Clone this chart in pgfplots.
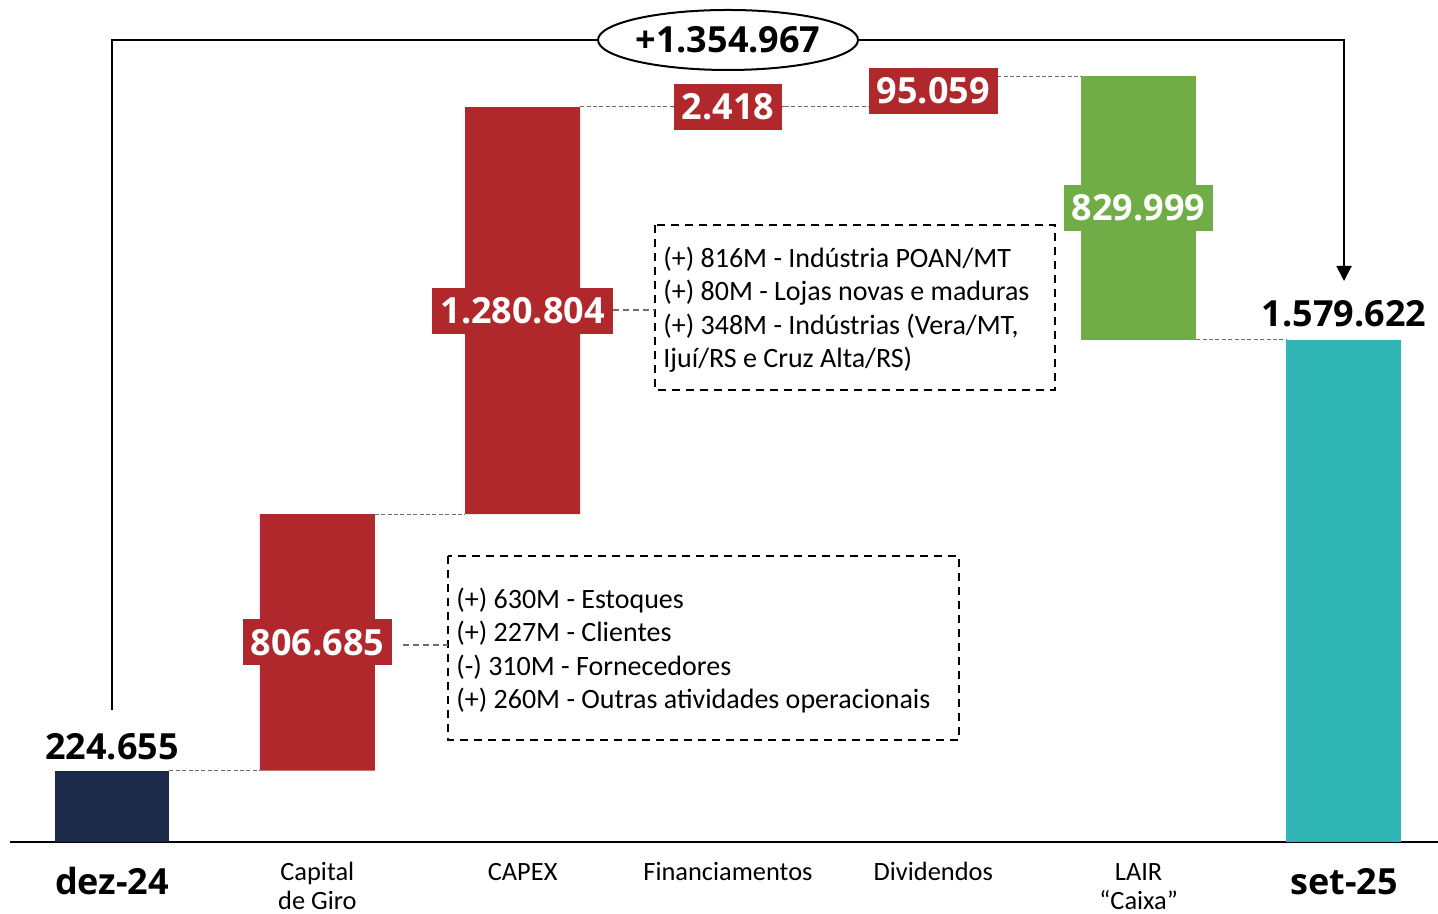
\documentclass[border=0pt]{standalone}
\usepackage{pgfplots}
\pgfplotsset{compat=1.18}
\usepackage{fontspec}
\setmainfont{Open Sans}
\newfontfamily\calib{Carlito}
\usetikzlibrary{arrows.meta}
\definecolor{cnavy}{RGB}{28,42,74}
\definecolor{cred}{RGB}{176,40,44}
\definecolor{cgreen}{RGB}{112,173,71}
\definecolor{cteal}{RGB}{46,181,180}
\definecolor{cgray}{RGB}{110,110,110}
\tikzset{
  vbox/.style={fill=#1, text=white, font=\fontsize{18}{21}\bfseries\selectfont, inner xsep=4pt, inner ysep=0pt, minimum height=23pt},
  cat/.style={anchor=base, inner sep=0pt, font=\calib\fontsize{13.2}{16}\selectfont},
  big/.style={anchor=base, inner sep=0pt, font=\fontsize{18}{21}\bfseries\selectfont},
}
\begin{document}
\begin{tikzpicture}
\begin{axis}[
  at={(0,0)}, anchor=south west,
  scale only axis, width=719pt, height=457pt,
  xmin=-0.5455, xmax=6.4580,
  ymin=-226512, ymax=2648932,
  hide axis, clip=false, enlargelimits=false,
  ybar stacked, bar width=0.56,
]
% invisible base
\addplot[draw=none, fill=none] coordinates {(0,0) (1,224655) (2,1031340) (3,2312144) (4,2314562) (5,1579622) (6,0)};
\addplot[draw=none, fill=cnavy] coordinates {(0,224655) (1,0) (2,0) (3,0) (4,0) (5,0) (6,0)};
\addplot[draw=none, fill=cred] coordinates {(0,0) (1,806685) (2,1280804) (3,2418) (4,95059) (5,0) (6,0)};
\addplot[draw=none, fill=cgreen] coordinates {(0,0) (1,0) (2,0) (3,0) (4,0) (5,829999) (6,0)};
\addplot[draw=none, fill=cteal] coordinates {(0,0) (1,0) (2,0) (3,0) (4,0) (5,0) (6,1579622)};

% baseline
\draw[black, line width=0.8pt] (axis cs:-0.4968,0) -- (axis cs:6.458,0);
% connectors
\draw[cgray, line width=0.5pt, dash pattern=on 2pt off 1.2pt] (axis cs:0.28,224655) -- (axis cs:0.72,224655);
\draw[cgray, line width=0.5pt, dash pattern=on 2pt off 1.2pt] (axis cs:1.28,1031340) -- (axis cs:1.72,1031340);
\draw[cgray, line width=0.5pt, dash pattern=on 2pt off 1.2pt] (axis cs:2.28,2313353) -- (axis cs:3.72,2313353);
\draw[cgray, line width=0.5pt, dash pattern=on 2pt off 1.2pt] (axis cs:4.28,2409621) -- (axis cs:4.72,2409621);
\draw[cgray, line width=0.5pt, dash pattern=on 2pt off 1.2pt] (axis cs:5.28,1579622) -- (axis cs:5.72,1579622);

% label positions (drawn after the axis so they sit above the bars)
\coordinate (L1) at (axis cs:1,627997);
\coordinate (L2) at (axis cs:2,1671742);
\coordinate (L3) at (axis cs:3,2313353);
\coordinate (L4) at (axis cs:4,2362092);
\coordinate (L5) at (axis cs:5,1994622);
\node[big] at (axis cs:0,257972) {224.655};
\node[big] at (axis cs:6,1620190) {1.579.622};

% category labels
\node[big] at (axis cs:0,-166738) {dez-24};
\node[big] at (axis cs:6,-166738) {set-25};
\node[cat] at (axis cs:1,-119560) {Capital};
\node[cat] at (axis cs:1,-213928) {de Giro};
\node[cat] at (axis cs:2,-119560) {CAPEX};
\node[cat] at (axis cs:3,-119560) {Financiamentos};
\node[cat] at (axis cs:4,-119560) {Dividendos};
\node[cat] at (axis cs:5,-119560) {LAIR};
\node[cat] at (axis cs:5,-213928) {“Caixa”};
\end{axis}

\node[vbox=cred] at (L1) {806.685};
\node[vbox=cred] at (L2) {1.280.804};
\node[vbox=cred] at (L3) {2.418};
\node[vbox=cred] at (L4) {95.059};
\node[vbox=cgreen] at (L5) {829.999};

\begin{scope}[x=0.5pt, y=-0.5pt, yshift=457pt]
% bracket
\draw[black, line width=1pt, -{Triangle[length=7.5pt, width=7.5pt]}] (112,710) -- (112,40) -- (1344,40) -- (1344,281);
\draw[black, line width=1pt, fill=white] (728,40) ellipse [x radius=65pt, y radius=15pt];
\node[font=\fontsize{18}{21}\bfseries\selectfont, inner sep=0pt] at (728,40) {+1.354.967};
% annotation boxes
\draw[black, line width=1pt, dash pattern=on 4pt off 3pt] (655,225) rectangle (1055,390);
\draw[cgray, line width=0.6pt, dash pattern=on 3pt off 2pt] (613,310) -- (655,310);
\node[anchor=base west, inner sep=0pt, align=left, font=\calib\fontsize{14}{16.8}\selectfont] at (663,368)
 {(+) 816M - Indústria POAN/MT\\(+) 80M - Lojas novas e maduras\\(+) 348M - Indústrias (Vera/MT,\\Ijuí/RS e Cruz Alta/RS)};
\draw[black, line width=1pt, dash pattern=on 4pt off 3pt] (448,556) rectangle (959,740);
\draw[cgray, line width=0.6pt, dash pattern=on 3pt off 2pt] (403,645) -- (448,645);
\node[anchor=base west, inner sep=0pt, align=left, font=\calib\fontsize{14}{16.8}\selectfont] at (456,709)
 {(+) 630M - Estoques\\(+) 227M - Clientes\\(-) 310M - Fornecedores\\(+) 260M - Outras atividades operacionais};
\end{scope}

\pgfresetboundingbox
\path[use as bounding box] (0,0) rectangle (719pt,457pt);
\end{tikzpicture}
\end{document}
